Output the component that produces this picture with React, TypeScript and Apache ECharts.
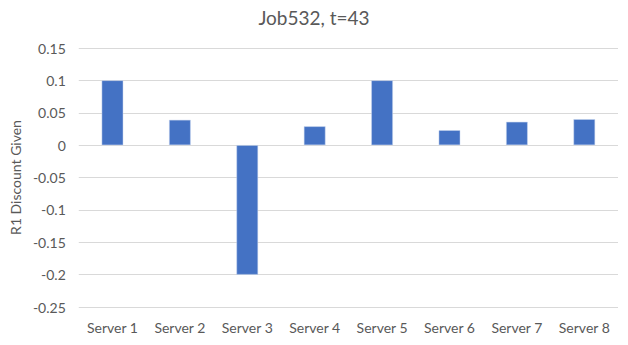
import React, { useEffect, useRef } from "react";
import * as echarts from "echarts";

const categories = ["Server 1", "Server 2", "Server 3", "Server 4", "Server 5", "Server 6", "Server 7", "Server 8"];
const discountValues = [0.1, 0.039, -0.2, 0.029, 0.1, 0.023, 0.036, 0.04];
const titleText = "Job532, t=43";
const yAxisName = "R1 Discount Given";

export default function App() {
  const ref = useRef<HTMLDivElement>(null);
  useEffect(() => {
    if (!ref.current) return;
    const chart = echarts.init(ref.current, undefined, { renderer: "svg" });
    const font = "Lato, 'Open Sans', sans-serif";
    chart.setOption({
      animation: false,
      title: {
        text: titleText,
        left: "center",
        top: 3,
        textStyle: { color: "#595959", fontSize: 19, fontWeight: "normal", fontFamily: font },
      },
      grid: { left: 75, right: 10, top: 48, bottom: 38 },
      xAxis: {
        type: "category",
        data: categories,
        axisLine: { show: false, onZero: false },
        axisTick: { show: false },
        axisLabel: { color: "#595959", fontSize: 14, fontFamily: font, margin: 13 },
      },
      yAxis: {
        type: "value",
        min: -0.25,
        max: 0.15,
        interval: 0.05,
        name: yAxisName,
        nameLocation: "middle",
        nameGap: 52,
        nameTextStyle: { color: "#595959", fontSize: 14, fontFamily: font },
        axisLine: { show: false },
        axisTick: { show: false },
        axisLabel: {
          color: "#595959",
          fontSize: 14,
          fontFamily: font,
          margin: 13,
          formatter: (v: number) => String(Math.round(v * 100) / 100),
        },
        splitLine: { lineStyle: { color: "#d9d9d9", width: 1 } },
      },
      series: [
        {
          type: "bar",
          data: discountValues,
          barWidth: "32%",
          itemStyle: { color: "#4472C4", borderColor: "#c9d6ee", borderWidth: 0.5 },
        },
      ],
    });
    return () => chart.dispose();
  }, []);
  return <div ref={ref} style={{ width: 628, height: 345, position: "absolute", left: 0, top: 0 }} />;
}
